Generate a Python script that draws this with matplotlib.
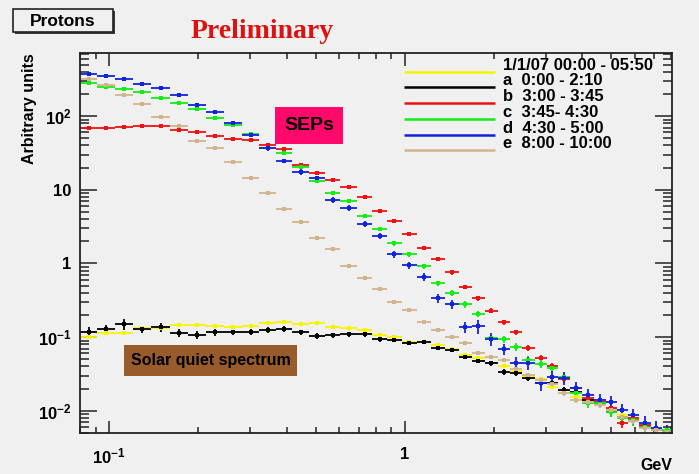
import matplotlib
matplotlib.use("Agg")
import matplotlib.pyplot as plt
from matplotlib.ticker import FixedLocator, LogLocator, NullFormatter
from matplotlib.patches import Rectangle
import numpy as np

plt.rcParams['font.family'] = ['Liberation Sans', 'DejaVu Sans']
plt.rcParams['mathtext.default'] = 'regular'

# energy bin edges (GeV)
edges = [0.0797, 0.0911, 0.1048, 0.1206, 0.1388, 0.1610, 0.1852, 0.2132, 0.2454,
         0.2824, 0.3225, 0.3683, 0.4172, 0.4764, 0.5398, 0.6069, 0.6877, 0.7788,
         0.8690, 0.9768, 1.098, 1.225, 1.367, 1.524, 1.687, 1.867, 2.067, 2.270,
         2.493, 2.760, 3.030, 3.301, 3.625, 3.981, 4.372, 4.801, 5.231, 5.700,
         6.212, 6.823, 7.433, 8.037]

# 1/1/07 00:00 - 05:50 (solar quiet reference)
quiet = [0.0993, 0.113, 0.115, 0.132, 0.132, 0.146, 0.146, 0.142, 0.138, 0.142,
         0.154, 0.159, 0.151, 0.154, 0.138, 0.132, 0.125, 0.107, 0.102, 0.0867,
         0.0859, 0.0782, 0.0682, 0.0571, 0.0515, 0.0446, 0.0406, 0.0347, 0.0296,
         0.0270, 0.0210, 0.0191, 0.0154, 0.0132, 0.0124, 0.0103, 0.0088, 0.0080,
         0.0060, 0.0055, 0.0052]
a_vals = [0.118, 0.128, 0.151, 0.128, 0.138, 0.115, 0.107, 0.117, 0.116, 0.118,
          0.125, 0.129, 0.117, 0.105, 0.107, 0.109, 0.109, 0.0933, 0.0914, 0.0840,
          0.0859, 0.0711, 0.0668, 0.0546, 0.0479, 0.0446, 0.0336, 0.0326, 0.0279,
          0.0238, 0.0238, 0.0191, 0.0180, 0.0140, 0.0128, 0.0096, 0.0082, 0.0075,
          0.0062, 0.0055, 0.0052]
b_vals = [68.1, 68.7, 71.6, 72.5, 73.1, 64.0, 60.7, 53.5, 49.2, 46.8,
          40.4, 35.3, 21.6, 16.7, 13.5, 10.8, 8.04, 5.14, 3.80, 2.48,
          1.60, 1.14, 0.757, 0.479, 0.336, 0.228, 0.159, 0.116, 0.0718, 0.0520,
          0.0406, 0.0270, 0.0204, 0.0149, 0.0132, 0.0109, 0.0068, 0.0080, 0.0064,
          0.0055, 0.0052]
c_vals = [278, 250, 235, 210, 179, 150, 126, 94, 74.8, 57,
          37.2, 31.2, 20.5, 13.2, 9.1, 7.09, 4.40, 2.93, 1.87, 1.34,
          0.92, 0.537, 0.396, 0.279, 0.206, 0.097, 0.094, 0.0735, 0.0489, 0.0432,
          0.0381, 0.0288, 0.0175, 0.0128, 0.0128, 0.0096, 0.0080, 0.0075, 0.0060,
          0.0057, 0.0055]
d_vals = [372, 349, 315, 274, 240, 195, 141, 113, 79.6, 55.7,
          36.5, 24.7, 17.5, 14.3, 7.25, 5.70, 3.43, 2.38, 1.33, 0.95,
          0.66, 0.34, 0.281, 0.137, 0.142, 0.094, 0.069, 0.0446, 0.0446, 0.0238,
          0.0288, 0.0279, 0.0204, 0.0164, 0.0140, 0.0132, 0.0103, 0.0088, 0.0068,
          0.0058, 0.0052]
e_vals = [315, 261, 191, 146, 98, 73.1, 45.4, 36.5, 24.0, 14.4,
          9.1, 5.52, 3.68, 2.23, 1.55, 0.92, 0.64, 0.445, 0.296, 0.233,
          0.162, 0.125, 0.101, 0.0824, 0.0614, 0.0542, 0.0489, 0.0369, 0.0306, 0.0262,
          0.0231, 0.0175, 0.0140, 0.0132, 0.0120, 0.0103, 0.0082, 0.0073, 0.0058,
          0.0055, 0.0052]

# relative errors
quiet_err = [.03, .03, .03, .03, .03, .03, .03, .03, .03, .03, .03, .03, .03, .03,
             .03, .03, .03, .03, .03, .03, .03, .03, .04, .04, .04, .04, .04, .04,
             .05, .05, .05, .05, .05, .06, .06, .06, .06, .07, .07, .07, .08]
a_err = [.18, .16, .16, .12, .14, .12, .12, .10, .09, .09, .09, .09, .08, .09,
         .08, .08, .07, .07, .07, .07, .07, .07, .07, .08, .08, .08, .09, .09,
         .10, .10, .11, .11, .12, .12, .13, .13, .14, .14, .15, .15, .16]
b_err = [.03, .03, .03, .03, .03, .03, .03, .03, .03, .04, .04, .04, .04, .04,
         .04, .05, .05, .05, .05, .06, .06, .06, .07, .07, .07, .08, .08, .09,
         .09, .10, .10, .11, .11, .12, .12, .13, .13, .14, .14, .15, .15]
c_err = [.03, .03, .03, .03, .03, .04, .04, .04, .04, .05, .05, .05, .05, .06,
         .06, .06, .07, .07, .07, .08, .08, .09, .09, .10, .10, .11, .11, .12,
         .12, .13, .13, .14, .14, .15, .15, .15, .16, .16, .17, .17, .18]
d_err = [.04, .04, .04, .04, .04, .05, .05, .05, .06, .06, .07, .07, .08, .08,
         .09, .09, .10, .10, .11, .11, .12, .14, .15, .18, .22, .20, .18, .20,
         .20, .22, .20, .20, .20, .20, .20, .20, .22, .22, .25, .25, .25]
e_err = [.02, .02, .02, .02, .02, .02, .02, .02, .02, .03, .03, .03, .03, .03,
         .03, .04, .04, .04, .04, .04, .05, .05, .05, .05, .06, .06, .06, .06,
         .07, .07, .07, .08, .08, .08, .09, .09, .09, .10, .10, .10, .10]

labels = ['1/1/07 00:00 - 05:50', 'a  0:00 - 2:10', 'b  3:00 - 3:45',
          'c  3:45- 4:30', 'd  4:30 - 5:00', 'e  8:00 - 10:00']
colors = ['#f5f500', '#000000', '#ee1111', '#11ee11', '#1122dd', '#d2b48c']
series = [quiet, a_vals, b_vals, c_vals, d_vals, e_vals]
errors = [quiet_err, a_err, b_err, c_err, d_err, e_err]

bg = '#f0f0f0'
fig = plt.figure(figsize=(6.99, 4.74), dpi=100, facecolor=bg)
ax = fig.add_axes([0.1144, 0.0865, 0.847, 0.8017], facecolor=bg)

edges = np.array(edges)
centers = np.sqrt(edges[:-1] * edges[1:])
xlo = centers - edges[:-1]
xhi = edges[1:] - centers

for vals, err, col in zip(series, errors, colors):
    v = np.array(vals)
    ax.errorbar(centers, v, xerr=[xlo, xhi], yerr=v * np.array(err),
                fmt='s', ms=2.5, color=col, ecolor=col, elinewidth=1.3,
                capsize=2.2, capthick=1.1, mew=0)

ax.set_xscale('log')
ax.set_yscale('log')
ax.set_xlim(edges[0], edges[-1])
ax.set_ylim(0.005, 720)

ax.xaxis.set_major_locator(FixedLocator([0.1, 1]))
ax.set_xticklabels(['$10^{-1}$', '1'])
ax.yaxis.set_major_locator(FixedLocator([0.01, 0.1, 1, 10, 100]))
ax.set_yticklabels(['$10^{-2}$', '$10^{-1}$', '1', '10', '$10^{2}$'])
for axis in (ax.xaxis, ax.yaxis):
    axis.set_minor_locator(LogLocator(base=10, subs=np.arange(2, 10)))
    axis.set_minor_formatter(NullFormatter())
for lab in ax.get_xticklabels() + ax.get_yticklabels():
    lab.set_fontweight('bold')
    lab.set_fontsize(12)

ax.tick_params(which='both', direction='in', top=True, right=True, width=1.1, color='#222222')
ax.tick_params(axis='y', which='major', length=12.5, pad=6)
ax.tick_params(axis='y', which='minor', length=6.5)
ax.tick_params(axis='x', which='major', length=9, pad=10)
ax.tick_params(axis='x', which='minor', length=4.5)
for sp in ax.spines.values():
    sp.set_linewidth(1.3)
    sp.set_color('#222222')

ax.text(-0.085, 1.0, 'Arbitrary units', transform=ax.transAxes, rotation=90,
        ha='center', va='top', fontsize=11.5, fontweight='bold')
ax.text(1.0, -0.085, 'GeV', transform=ax.transAxes, ha='right', va='center',
        fontsize=11.5, fontweight='bold')

# legend drawn in axes coordinates
for i, (lab, col) in enumerate(zip(labels, colors)):
    yt = 0.968 - i * 0.0414
    ax.plot([0.547, 0.701], [yt - 0.017, yt - 0.017], color=col, lw=1.8,
            transform=ax.transAxes, solid_capstyle='butt')
    ax.text(0.7145, yt, lab, transform=ax.transAxes, ha='left', va='center',
            fontsize=12, fontweight='bold')

# annotation boxes
ax.add_patch(Rectangle((0.3294, 0.7605), 0.1149, 0.0974, transform=ax.transAxes,
                       facecolor='#ff0a6a', edgecolor='none', zorder=5))
ax.text(0.3868, 0.809, 'SEPs', transform=ax.transAxes, ha='center', va='center',
        fontsize=14, fontweight='bold', zorder=6)
ax.add_patch(Rectangle((0.0743, 0.1500), 0.2922, 0.0816, transform=ax.transAxes,
                       facecolor='#975b2c', edgecolor='none', zorder=5))
ax.text(0.2204, 0.1908, 'Solar quiet spectrum', transform=ax.transAxes,
        ha='center', va='center', fontsize=11.5, fontweight='bold', zorder=6)

# header
fig.patches.append(Rectangle((15 / 699, 1 - 34 / 474), 100 / 699, 23 / 474,
                             transform=fig.transFigure, facecolor='#3a3a3a',
                             edgecolor='none'))
fig.patches.append(Rectangle((13 / 699, 1 - 32 / 474), 100 / 699, 23 / 474,
                             transform=fig.transFigure, facecolor=bg,
                             edgecolor='#222222', lw=1.2))
fig.text(63 / 699, 1 - 21 / 474, 'Protons', ha='center', va='center',
         fontsize=12.5, fontweight='bold')
fig.text(262 / 699, 1 - 31 / 474, 'Preliminary', ha='center', va='center',
         fontsize=20, fontweight='bold', color='#dd1111',
         family=['Liberation Serif', 'DejaVu Serif'])

fig.savefig('out.png', dpi=100, facecolor=bg)
